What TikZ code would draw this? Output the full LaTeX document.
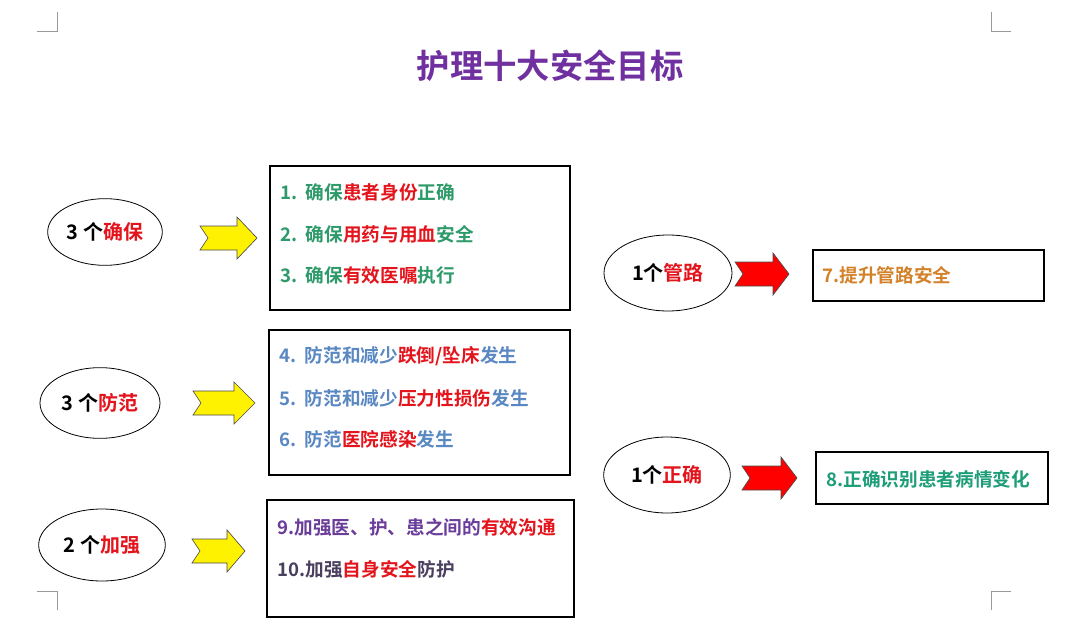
\documentclass[tikz,border=0pt]{standalone}
\usepackage{fontspec}
\setmainfont{Noto Sans CJK SC}[BoldFont={* Bold}]
\usetikzlibrary{shapes.geometric}
\definecolor{tpurple}{HTML}{7030A0}
\definecolor{tgreen}{HTML}{2E9A6A}
\definecolor{tred}{HTML}{E3141C}
\definecolor{tblue}{HTML}{5A88C2}
\definecolor{tpur}{HTML}{6A3D9A}
\definecolor{tdark}{HTML}{4A3F5E}
\definecolor{torange}{HTML}{D4822A}
\definecolor{tteal}{HTML}{1E9E78}
\tikzset{
 ell/.style={ellipse,draw=black,line width=0.6pt,inner sep=0pt,font=\bfseries\fontsize{15pt}{17pt}\selectfont},
 box/.style={draw=black,line width=0.8pt},
 txt/.style={anchor=west,font=\bfseries\fontsize{14pt}{16pt}\selectfont,inner sep=0pt},
 yarr/.style={fill=yellow,draw=black!70,line width=0.5pt},
 rarr/.style={fill=red,draw=black!70,line width=0.5pt},
 cropmark/.style={draw=black!40,line width=0.5pt}
}
\newcommand{\chev}[5]{% style, x0, x1, yc, headstart
 \draw[#1] (#2,#4-12) -- (#5,#4-12) -- (#5,#4-21) -- (#3,#4) -- (#5,#4+21) -- (#5,#4+12) -- (#2,#4+12) -- (#2+8,#4) -- cycle;}
\begin{document}
\begin{tikzpicture}[x=0.75pt,y=-0.75pt]
\useasboundingbox (0,0) rectangle (1069,631);
\fill[white] (0,0) rectangle (1069,631);
% corner marks
\draw[cropmark] (57,12) -- (57,31) -- (37,31);
\draw[cropmark] (991,12) -- (991,31) -- (1011,31);
\draw[cropmark] (57,610) -- (57,591) -- (37,591);
\draw[cropmark] (991,610) -- (991,591) -- (1011,591);
\node[font=\bfseries\fontsize{25pt}{28pt}\selectfont,text=tpurple] (title) at (550,66) {护理十大安全目标};
% ellipses
\node[ell,minimum width=86pt,minimum height=50pt] (e1) at (105,232) {3 个\textcolor{tred}{确保}};
\node[ell,minimum width=90pt,minimum height=53pt] (e2) at (100,403) {3 个\textcolor{tred}{防范}};
\node[ell,minimum width=95pt,minimum height=54pt] (e3) at (102,545) {2 个\textcolor{tred}{加强}};
\node[ell,minimum width=96pt,minimum height=57pt] (e4) at (668,273) {1个\textcolor{tred}{管路}};
\node[ell,minimum width=95pt,minimum height=57pt] (e5) at (667,475) {1个\textcolor{tred}{正确}};
% arrows
\chev{yarr}{200}{257}{238}{237}
\chev{yarr}{193}{255}{403}{234}
\chev{yarr}{192}{245}{551}{227}
\chev{rarr}{735}{789}{274}{773}
\chev{rarr}{742}{797}{478}{781}
% boxes
\draw[box] (270,166) rectangle (570,310);
\draw[box] (269,330) rectangle (570,475);
\draw[box] (267,500) rectangle (574,617);
\draw[box] (813,250) rectangle (1044,301);
\draw[box] (816,452) rectangle (1048,504);
% texts
\node[txt,text=tgreen] (t1) at (280,192) {1.\ \ 确保\textcolor{tred}{患者身份}正确};
\node[txt,text=tgreen] (t2) at (280,234) {2.\ \ 确保\textcolor{tred}{用药与用血}安全};
\node[txt,text=tgreen] (t3) at (280,275) {3.\ \ 确保\textcolor{tred}{有效医嘱}执行};
\node[txt,text=tblue] (t4) at (279,356) {4.\ \ 防范和减少\textcolor{tred}{跌倒/坠床}发生};
\node[txt,text=tblue] (t5) at (279,398) {5.\ \ 防范和减少\textcolor{tred}{压力性损伤}发生};
\node[txt,text=tblue] (t6) at (279,439) {6.\ \ 防范\textcolor{tred}{医院感染}发生};
\node[txt,text=tpur] (t9) at (277,527) {9.加强医、护、患之间的\textcolor{tred}{有效沟通}};
\node[txt,text=tdark] (t10) at (277,569) {10.加强\textcolor{tred}{自身安全}防护};
\node[txt,text=torange] (t7) at (822,275) {7.提升管路安全};
\node[txt,text=tteal] (t8) at (826,479) {8.正确识别患者病情变化};
\end{tikzpicture}
\end{document}
